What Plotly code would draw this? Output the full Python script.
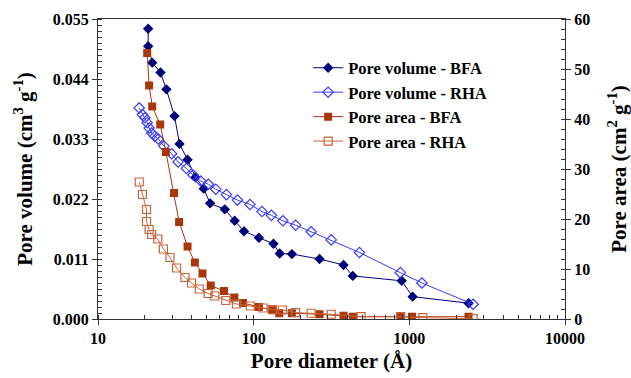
import plotly.graph_objects as go

# Pore volume - BFA
vb_d = [21.0, 21.0, 22.3, 25.2, 27.5, 31.0, 33.4, 37.6, 42.3, 47.8, 52.5, 65.2, 75.5, 86.6, 108, 134, 147, 176, 265, 378, 433, 893, 1050, 2400]
vb_v = [0.0532, 0.0500, 0.0470, 0.0452, 0.0421, 0.0372, 0.0321, 0.0292, 0.0260, 0.0239, 0.0212, 0.0201, 0.0180, 0.0161, 0.0149, 0.0138, 0.0120, 0.0119, 0.0110, 0.0099, 0.0079, 0.0070, 0.0041, 0.0029]

# Pore volume - RHA
vr_d = [18.4, 19.3, 20.0, 20.7, 21.3, 22.1, 23.2, 24.4, 26.5, 29.7, 32.7, 37.0, 40.8, 45.7, 51.2, 57.1, 66.8, 78.6, 94.7, 113, 130, 154, 186, 234, 315, 478, 875, 1205, 2570]
vr_v = [0.0387, 0.0375, 0.0369, 0.0360, 0.0350, 0.0341, 0.0335, 0.0330, 0.0317, 0.0303, 0.0288, 0.0276, 0.0264, 0.0253, 0.0247, 0.0238, 0.0228, 0.0218, 0.0210, 0.0197, 0.0190, 0.0180, 0.0172, 0.0160, 0.0145, 0.0122, 0.0085, 0.0066, 0.0027]

# Pore area - BFA
ab_d = [20.7, 21.3, 22.3, 25.1, 27.3, 30.8, 33.2, 37.6, 41.9, 46.9, 53.0, 64.5, 75.2, 85.5, 108, 132, 146, 176, 265, 378, 435, 880, 1040, 2400]
ab_a = [53.2, 46.7, 42.5, 38.9, 33.4, 25.2, 19.4, 14.5, 11.3, 9.1, 6.7, 5.6, 4.3, 3.2, 2.4, 1.75, 1.15, 1.15, 0.95, 0.66, 0.46, 0.46, 0.46, 0.46]

# Pore area - RHA
ar_d = [18.4, 19.3, 20.5, 20.5, 21.3, 22.1, 24.2, 26.3, 29.0, 32.0, 36.2, 39.9, 44.7, 51.0, 56.3, 66.2, 77.5, 95.2, 115, 132, 153, 186, 234, 315, 490, 880, 1220, 2570]
ar_a = [27.4, 24.9, 21.9, 19.5, 17.9, 16.9, 16.0, 14.0, 12.3, 10.2, 8.3, 7.2, 6.0, 5.1, 4.6, 3.7, 3.0, 2.6, 2.2, 1.9, 1.8, 1.27, 1.15, 0.95, 0.46, 0.46, 0.26, 0.06]

C_VB = "#00007a"
C_VR = "#3a3aff"
C_AB = "#a8380c"
C_AR = "#c8643a"

FONT = "Liberation Serif"

fig = go.Figure()
fig.add_trace(go.Scatter(x=vb_d, y=vb_v, mode="lines+markers", name="<b>Pore volume - BFA</b>",
                         line=dict(color=C_VB, width=1),
                         marker=dict(symbol="diamond", size=8, color=C_VB, line=dict(width=0))))
fig.add_trace(go.Scatter(x=vr_d, y=vr_v, mode="lines+markers", name="<b>Pore volume - RHA</b>",
                         line=dict(color=C_VR, width=1),
                         marker=dict(symbol="diamond-open", size=8, color=C_VR, line=dict(width=1.2))))
fig.add_trace(go.Scatter(x=ab_d, y=ab_a, mode="lines+markers", name="<b>Pore area - BFA</b>", yaxis="y2",
                         line=dict(color=C_AB, width=1),
                         marker=dict(symbol="square", size=8, color=C_AB, line=dict(width=0))))
fig.add_trace(go.Scatter(x=ar_d, y=ar_a, mode="lines+markers", name="<b>Pore area - RHA</b>", yaxis="y2",
                         line=dict(color=C_AR, width=1),
                         marker=dict(symbol="square-open", size=8, color=C_AR, line=dict(width=1.2))))

axfont = dict(family=FONT, size=16, color="black")
fig.update_layout(
    width=631, height=378,
    margin=dict(l=98, r=66, t=19, b=59),
    paper_bgcolor="white", plot_bgcolor="white",
    font=dict(family=FONT, color="black"),
    showlegend=True,
    legend=dict(x=0.45, y=0.895, xanchor="left", yanchor="top", bgcolor="rgba(0,0,0,0)",
                font=dict(family=FONT, size=16.5, color="black"), tracegroupgap=0, itemwidth=30),
    xaxis=dict(type="log", range=[1, 4], showline=True, linecolor="#333", linewidth=1, automargin=False,
               mirror=True, ticks="outside", ticklen=5, tickcolor="#333",
               tickvals=[10, 100, 1000, 10000], ticktext=["<b>10</b>", "<b>100</b>", "<b>1000</b>", "<b>10000</b>"],
               tickfont=axfont, showgrid=False, zeroline=False,
               minor=dict(ticks="inside", ticklen=4, tickcolor="#333", dtick="D1", showgrid=False),
               title=dict(text="<b>Pore diameter (Å)</b>", font=dict(family=FONT, size=21), standoff=7)),
    yaxis=dict(range=[0, 0.055], showline=True, linecolor="#333", linewidth=1, automargin=False,
               ticks="outside", ticklen=5, tickcolor="#333", dtick=0.011, tickformat=".3f",
               tickprefix="<b>", ticksuffix="</b>",
               tickfont=axfont, showgrid=False, zeroline=False,
               minor=dict(ticks="inside", ticklen=4, tickcolor="#333", dtick=0.0011, showgrid=False),
               title=dict(text="<b>Pore volume (cm<sup>3</sup> g<sup>-1</sup>)</b>", font=dict(family=FONT, size=21), standoff=14)),
    yaxis2=dict(range=[0, 60], overlaying="y", side="right", showline=True, linecolor="#333", linewidth=1, automargin=False,
                ticks="outside", ticklen=5, tickcolor="#333", dtick=10,
                tickprefix="<b>", ticksuffix="</b>",
                tickfont=axfont, showgrid=False, zeroline=False,
                minor=dict(ticks="inside", ticklen=4, tickcolor="#333", dtick=2, showgrid=False),
                title=dict(text="<b>Pore area (cm<sup>2</sup> g<sup>-1</sup>)</b>", font=dict(family=FONT, size=21), standoff=23)),
)

fig.write_html("out.html")
